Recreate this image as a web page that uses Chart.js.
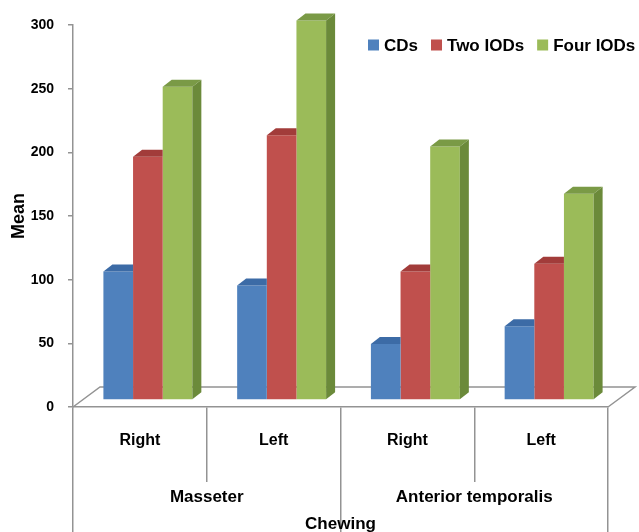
<!DOCTYPE html>
<html>
<head>
<meta charset="utf-8">
<script src="https://cdn.jsdelivr.net/npm/chart.js@4.4.1/dist/chart.umd.min.js"></script>
<style>
  html, body { margin: 0; padding: 0; background: #fff; }
  #holder { width: 639px; height: 532px; }
</style>
</head>
<body>
<div id="holder"><canvas id="chart"></canvas></div>
<script>
// values
let sides = ["Right", "Left", "Right", "Left"]
let muscles = ["Masseter", "Anterior temporalis"]
let cds = [101, 90, 44, 58]
let twoIods = [191, 208, 101, 107]
let fourIods = [246, 298, 199, 162]
let meanTicks = [0, 50, 100, 150, 200, 250, 300]

let font = '"Liberation Sans", Arial, sans-serif'
let gray = "#939393"

// 3D look: bars sit a bit behind the front edge of the floor
let shift = { dx: 8, dy: -7 }
let depth = { dx: 9, dy: -7 }
let floor = { dx: 27, dy: -20 }

let bars3d = {
    id: "bars3d",
    beforeDatasetsDraw(chart) {
        let ctx = chart.ctx
        let a = chart.chartArea
        ctx.save()
        ctx.strokeStyle = gray
        ctx.lineWidth = 1.5
        ctx.beginPath()
        ctx.moveTo(a.left, a.bottom)
        ctx.lineTo(a.left + floor.dx, a.bottom + floor.dy)
        ctx.lineTo(a.right + floor.dx, a.bottom + floor.dy)
        ctx.lineTo(a.right, a.bottom)
        ctx.stroke()
        ctx.restore()
        ctx.save()
        ctx.translate(shift.dx, shift.dy)
    },
    afterDatasetsDraw(chart) {
        let ctx = chart.ctx
        let metas = chart.data.datasets.map(function (d, i) { return chart.getDatasetMeta(i) })
        metas.forEach(function (meta, di) {
            let ds = chart.data.datasets[di]
            meta.data.forEach(function (bar, j) {
                let p = bar.getProps(["x", "y", "width", "base"], true)
                let x0 = p.x - p.width / 2
                let x1 = p.x + p.width / 2
                let next = metas[di + 1] && metas[di + 1].data[j]
                let hidden = next && next.y <= p.y
                ctx.fillStyle = ds.topColor
                ctx.beginPath()
                ctx.moveTo(x0, p.y)
                ctx.lineTo(x1, p.y)
                if (hidden) ctx.lineTo(x1, p.y + depth.dy)
                else ctx.lineTo(x1 + depth.dx, p.y + depth.dy)
                ctx.lineTo(x0 + depth.dx, p.y + depth.dy)
                ctx.closePath()
                ctx.fill()
                if (!hidden) {
                    ctx.fillStyle = ds.sideColor
                    ctx.beginPath()
                    ctx.moveTo(x1, p.y)
                    ctx.lineTo(x1 + depth.dx, p.y + depth.dy)
                    ctx.lineTo(x1 + depth.dx, p.base + depth.dy)
                    ctx.lineTo(x1, p.base)
                    ctx.closePath()
                    ctx.fill()
                }
            })
        })
        ctx.restore()
    }
}

let boxLegend = {
    id: "boxLegend",
    afterDraw(chart) {
        let ctx = chart.ctx
        ctx.save()
        ctx.font = "bold 17px " + font
        ctx.textBaseline = "middle"
        let x = 368
        let y = 45
        chart.data.datasets.forEach(function (ds) {
            ctx.fillStyle = ds.backgroundColor
            ctx.fillRect(x, y - 5.5, 11, 11)
            ctx.fillStyle = "#000"
            ctx.fillText(ds.label, x + 16, y + 1)
            x += 16 + ctx.measureText(ds.label).width + 13
        })
        ctx.restore()
    }
}

let chart = new Chart(
    document.querySelector("#chart"),
    {
        type: "bar",
        data: {
            labels: sides,
            datasets: [
                { label: "CDs", data: cds, backgroundColor: "#4F81BD", topColor: "#3C6BA6", sideColor: "#385D8A" },
                { label: "Two IODs", data: twoIods, backgroundColor: "#C0504D", topColor: "#A23C3A", sideColor: "#8C3836" },
                { label: "Four IODs", data: fourIods, backgroundColor: "#9BBB59", topColor: "#7A9A46", sideColor: "#6B8A3A" }
            ]
        },
        options: {
            responsive: true,
            maintainAspectRatio: false,
            animation: false,
            layout: { padding: { top: 25, right: 31, left: 0, bottom: 0 } },
            datasets: {
                bar: { clip: false, borderWidth: 0, categoryPercentage: 0.665, barPercentage: 1 }
            },
            plugins: {
                legend: { display: false },
                tooltip: { enabled: false }
            },
            scales: {
                y: {
                    min: 0,
                    max: 300,
                    afterFit(scale) { scale.width = 73 },
                    afterBuildTicks(scale) { scale.ticks = meanTicks.map(function (v) { return { value: v } }) },
                    border: { display: true, color: gray, width: 1.5 },
                    grid: { drawOnChartArea: false, tickLength: 5, color: gray, lineWidth: 1.5 },
                    ticks: { padding: 14, color: "#000", font: { family: font, size: 14, weight: "bold" } },
                    title: {
                        display: true, text: "Mean", color: "#000",
                        padding: { top: 8, bottom: 0 },
                        font: { family: font, size: 18, weight: "bold" }
                    }
                },
                x: {
                    weight: 0,
                    afterFit(scale) { scale.height = 75 },
                    border: { display: true, color: gray, width: 1.5 },
                    grid: { drawOnChartArea: false, offset: true, tickLength: 75, color: gray, lineWidth: 1.5 },
                    ticks: { padding: -51, maxRotation: 0, color: "#000", font: { family: font, size: 16, weight: "bold" } }
                },
                x2: {
                    type: "category",
                    position: "bottom",
                    weight: 1,
                    labels: muscles,
                    afterFit(scale) { scale.height = 50 },
                    border: { display: false },
                    grid: { drawOnChartArea: false, offset: true, tickLength: 50, color: gray, lineWidth: 1.5 },
                    ticks: { padding: -45, maxRotation: 0, color: "#000", font: { family: font, size: 17, weight: "bold" } },
                    title: {
                        display: true, text: "Chewing", color: "#000",
                        padding: { top: 0, bottom: -3 },
                        font: { family: font, size: 17, weight: "bold" }
                    }
                }
            }
        },
        plugins: [bars3d, boxLegend]
    }
)
</script>
</body>
</html>
